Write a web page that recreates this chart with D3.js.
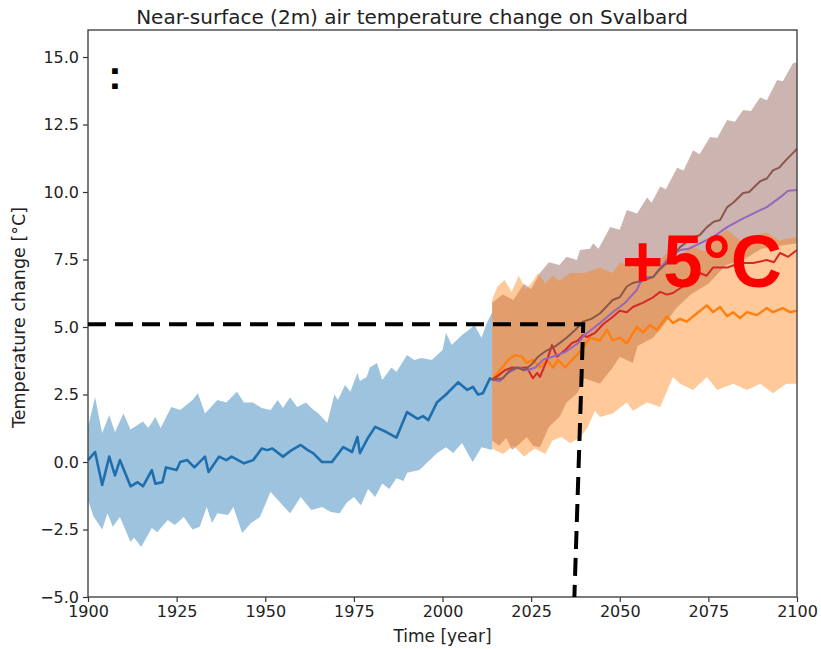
<!DOCTYPE html>
<html>
<head>
<meta charset="utf-8">
<script src="https://cdn.jsdelivr.net/npm/d3@7"></script>
<style>
  html, body { margin: 0; padding: 0; background: #fff; }
  svg { display: block; }
  text { font-family: "DejaVu Sans", sans-serif; }
</style>
</head>
<body>
<svg id="chart" width="821" height="649"></svg>
<script>
// ---- Observed / historical ensemble (year, °C) ----
const histMean = [
  [1900,0.07],[1902,0.37],[1904,-0.85],[1906,0.2],[1907.6,-0.5],[1909,0.07],[1912,-0.9],
  [1914,-0.75],[1915.5,-0.9],[1918,-0.3],[1919,-0.8],[1921,-0.75],[1922,-0.2],[1925,-0.3],
  [1926,0.0],[1928,0.07],[1930,-0.2],[1933,0.2],[1934,-0.37],[1937,0.2],[1939,0.07],
  [1940.5,0.2],[1944,-0.05],[1946.6,0.07],[1949,0.5],[1950.5,0.44],[1952,0.5],[1955,0.2],
  [1957,0.4],[1960,0.63],[1962,0.44],[1963.5,0.33],[1966,0.0],[1968.8,0.0],[1972,0.55],
  [1974.5,0.37],[1976,0.93],[1976.7,0.33],[1979,0.9],[1981,1.3],[1984.3,1.1],[1987,0.9],
  [1990,1.85],[1993,1.6],[1994.5,1.7],[1996,1.55],[1998.4,2.2],[2001,2.5],[2004.4,2.95],
  [2007,2.67],[2008.6,2.78],[2010,2.5],[2011.4,2.55],[2013.4,3.1],[2014,3.05]
];
const histUpper = [
  [1900,1.3],[1902,2.4],[1904,1.07],[1906,1.74],[1907.6,1.1],[1910,1.8],[1912,1.2],
  [1915.5,1.5],[1917,1.26],[1919,1.67],[1920.5,1.26],[1923.5,2.04],[1926,1.93],[1929.5,2.3],
  [1931,2.55],[1933,1.8],[1936.5,2.3],[1939,2.2],[1942,2.6],[1944,2.2],[1946.5,2.2],
  [1949,2.0],[1951.5,1.93],[1953.5,2.3],[1955,2.0],[1957,2.4],[1959,2.04],[1961.5,2.2],
  [1963,2.0],[1965,1.8],[1967.5,1.44],[1969.5,2.5],[1970.5,2.3],[1972.5,2.85],[1974,2.6],
  [1976,3.3],[1976.7,3.0],[1978.6,3.15],[1979.5,3.5],[1981.5,3.67],[1983,3.04],[1985.6,3.5],
  [1987,3.33],[1990,3.96],[1992,3.78],[1994,3.85],[1997,3.78],[2000,4.15],[2001,4.78],
  [2002.6,4.33],[2005.5,4.7],[2007.5,4.9],[2009,5.07],[2011,4.6],[2012.5,5.15],[2014,5.55]
];
const histLower = [
  [1900,-1.4],[1901.5,-2.0],[1904,-2.5],[1905.5,-1.9],[1907,-2.4],[1909,-2.04],[1912,-2.96],
  [1913,-2.8],[1915,-3.15],[1916.5,-2.8],[1918,-2.44],[1919.5,-2.6],[1922.5,-2.15],
  [1924.5,-2.33],[1927,-2.04],[1929.5,-2.5],[1931.5,-2.4],[1933.5,-1.67],[1935,-2.26],
  [1936.5,-1.9],[1939.5,-1.96],[1941,-1.67],[1943.5,-2.63],[1946,-2.26],[1948.5,-2.04],
  [1951.5,-1.1],[1953.5,-1.4],[1957,-1.9],[1960,-1.3],[1963,-1.78],[1966,-1.67],
  [1968.5,-1.85],[1971,-1.9],[1973,-1.5],[1975,-1.3],[1977,-1.6],[1979,-1.0],[1981,-1.3],
  [1983,-0.8],[1985,-1.0],[1987,-0.6],[1989,-0.7],[1990,-0.4],[1993.5,-0.3],[1998.5,0.33],
  [2001,0.55],[2003,0.33],[2005.5,0.7],[2008.5,0.0],[2011,0.55],[2014,0.44]
];

// ---- Scenario projections (year, °C) ----
const ssp126 = [
  [2014,3.05],[2016.2,3.4],[2018.5,3.78],[2020.5,3.96],[2022.4,3.9],[2023.8,3.67],[2025.5,3.78],
  [2027.5,3.5],[2029.5,3.78],[2031.2,3.5],[2032.6,3.78],[2034.6,3.5],[2036.5,3.78],[2038.2,4.0],
  [2039.4,4.2],[2041.6,4.6],[2044.4,4.5],[2046.4,4.9],[2048,4.5],[2050,4.6],[2052,4.4],
  [2054.8,5.0],[2056.6,4.8],[2058.5,5.07],[2060.5,4.9],[2063.3,5.4],[2065,5.15],[2067,5.3],
  [2068.9,5.2],[2071.7,5.5],[2074.6,5.8],[2076.3,5.55],[2078.3,5.74],[2080.3,5.4],[2082,5.55],
  [2083.9,5.33],[2085.9,5.55],[2088.7,5.44],[2091.5,5.7],[2093.2,5.55],[2096,5.7],[2098,5.55],
  [2100,5.6]
];
const ssp245 = [
  [2014,3.05],[2015.7,3.2],[2017.6,3.4],[2019.6,3.5],[2021.3,3.48],[2023.8,3.5],[2025.5,3.1],
  [2026.7,3.3],[2027.5,3.15],[2029.5,3.78],[2030.9,4.33],[2032.3,3.9],[2034.6,4.15],
  [2036.5,4.4],[2038.2,4.5],[2039.6,4.7],[2040.8,4.63],[2043,4.78],[2045.3,5.1],[2048,5.37],
  [2050,5.6],[2052,5.55],[2053.7,5.74],[2056.6,5.9],[2059.4,6.1],[2061.4,6.3],[2063.3,6.2],
  [2065,6.26],[2067.8,6.5],[2070.7,6.7],[2072.6,7.0],[2074.5,6.9],[2076.3,7.2],[2080.3,7.2],
  [2083.9,7.37],[2087.6,7.37],[2091.5,7.48],[2093.5,7.4],[2095.2,7.74],[2097.5,7.6],[2100,7.85]
];
const ssp370 = [
  [2014,3.05],[2016.2,3.0],[2018.5,3.3],[2021.3,3.5],[2024,3.4],[2026.2,3.5],[2028.5,3.8],
  [2031,3.9],[2034.6,4.07],[2038.2,4.4],[2040,4.7],[2042,4.9],[2044.4,5.15],[2046.4,5.37],
  [2048.5,5.6],[2050,5.74],[2051.5,5.9],[2054.8,6.37],[2055.7,6.63],[2057.6,6.85],
  [2059.4,6.85],[2061.5,7.2],[2063.3,7.48],[2067,7.85],[2069.5,7.9],[2072.6,8.1],[2076.3,8.33],
  [2080.3,8.7],[2083.9,8.96],[2087.6,9.2],[2091.5,9.44],[2095.2,9.8],[2097.5,10.05],[2100,10.07]
];
const ssp585 = [
  [2014,3.05],[2017,3.1],[2019,3.4],[2021,3.5],[2023,3.4],[2025,3.6],[2027,3.9],[2029,4.1],
  [2032,4.3],[2035,4.6],[2037.5,4.9],[2039.6,5.2],[2042,5.3],[2044.4,5.5],[2048,6.0],
  [2050,6.1],[2052,6.5],[2053.7,6.63],[2056,6.7],[2059.4,6.85],[2061,7.1],[2063.3,7.37],
  [2067,7.96],[2070.7,8.33],[2072.5,8.4],[2074.6,8.7],[2076.5,8.9],[2078.3,8.96],[2080.3,9.44],
  [2082,9.6],[2084.8,9.96],[2086.5,10.0],[2089.6,10.4],[2091.5,10.5],[2093.2,10.8],
  [2095,10.9],[2097,11.2],[2098.9,11.45],[2100,11.6]
];

// Spread of the low and high emission scenarios
const ssp126Upper = [
  [2014,6.0],[2015.5,6.5],[2017.5,6.74],[2019.5,6.3],[2021.5,6.9],[2023.5,6.4],[2025,6.6],
  [2027,7.0],[2029,6.6],[2031,6.9],[2033,6.7],[2036,7.0],[2040,7.0],[2044.4,7.2],[2048,7.0],
  [2050,7.4],[2053.7,7.2],[2057,7.5],[2060,7.3],[2063,7.7],[2067,7.6],[2070,8.0],[2074,7.8],
  [2078,8.4],[2080.3,8.6],[2084,8.2],[2088,8.4],[2091.5,8.5],[2095,8.2],[2098,8.3],[2100,8.33]
];
const ssp126Lower = [
  [2014,0.5],[2017,0.3],[2020,0.6],[2023,0.2],[2026,0.5],[2029,0.3],[2031,0.8],[2033.5,0.93],
  [2036,0.7],[2038.8,0.9],[2041,1.3],[2043,1.9],[2044.4,1.67],[2048,1.8],[2052,2.2],
  [2053.7,1.9],[2057.7,2.2],[2061.4,2.04],[2065,3.15],[2067,2.9],[2070.7,2.67],[2074.6,3.15],
  [2077.5,2.67],[2082,2.9],[2085.9,2.67],[2089.6,2.9],[2093.2,2.55],[2097,2.9],[2100,2.9]
];
const ssp585Upper = [
  [2014,5.9],[2017,6.2],[2020,6.0],[2023,6.6],[2025,6.4],[2027.5,7.0],[2030,7.4],[2033,7.3],
  [2035,7.6],[2037.9,7.48],[2038.8,7.85],[2041.6,7.9],[2042.5,8.1],[2044,7.9],[2047.3,8.7],
  [2050,8.6],[2052,9.33],[2054.9,9.2],[2057.7,9.8],[2059,9.6],[2061.4,10.2],[2063,10.1],
  [2066.2,10.9],[2068,10.8],[2070.7,11.55],[2072.5,11.4],[2075.5,12.04],[2077.5,12.0],
  [2080.3,12.67],[2082.5,12.6],[2084.8,13.04],[2087,13.0],[2089.6,13.5],[2091.5,13.4],
  [2094.4,14.15],[2096,14.1],[2098.9,14.78],[2100,14.8]
];
const ssp585Lower = [
  [2014,0.8],[2016,0.6],[2018,0.9],[2019.6,0.44],[2022,0.7],[2023.8,0.93],[2025.5,0.6],
  [2027.5,0.55],[2030,1.3],[2033,1.67],[2035,2.2],[2038,2.55],[2040,3.1],[2044.4,2.9],
  [2048,3.5],[2050,3.9],[2053.7,3.67],[2055,4.3],[2059.4,4.6],[2062,5.0],[2066,5.7],
  [2070,6.2],[2075,6.6],[2080,7.3],[2085,7.5],[2090,7.9],[2095,8.0],[2100,8.1]
];

// Axis ticks
const xTicks = [1900, 1925, 1950, 1975, 2000, 2025, 2050, 2075, 2100];
const yTicks = [-5.0, -2.5, 0.0, 2.5, 5.0, 7.5, 10.0, 12.5, 15.0];

// +5 °C guide: across at 5.1 °C, then down to the time axis
const guidePath = [[1900,5.1],[2039.7,5.1],[2037.2,-5.0]];

// ---- Layout ----
const W = 821, H = 649;
const margin = { top: 30, right: 24, bottom: 52, left: 88 };
const svg = d3.select("#chart");

const x = d3.scaleLinear().domain([1900, 2100]).range([margin.left, W - margin.right]);
const y = d3.scaleLinear().domain([-5, 16]).range([H - margin.bottom, margin.top]);

const line = d3.line().x(d => x(d[0])).y(d => y(d[1]));
const band = (upper, lower) => line(upper.concat(lower.slice().reverse())) + "Z";

const plot = svg.append("g");

// Bands
plot.append("path").attr("d", band(histUpper, histLower))
  .attr("fill", "#1f77b4").attr("fill-opacity", 0.44);
plot.append("path").attr("d", band(ssp585Upper, ssp585Lower))
  .attr("fill", "#8c564b").attr("fill-opacity", 0.44);
plot.append("path").attr("d", band(ssp126Upper, ssp126Lower))
  .attr("fill", "#ff7f0e").attr("fill-opacity", 0.42);

// Mean lines
plot.append("path").attr("d", line(histMean))
  .attr("fill", "none").attr("stroke", "#1f6fae").attr("stroke-width", 2.6)
  .attr("stroke-linejoin", "round");
const scen = [
  { data: ssp126, color: "#ff7f0e", w: 2.4 },
  { data: ssp245, color: "#d62728", w: 2.0 },
  { data: ssp370, color: "#9467bd", w: 2.0 },
  { data: ssp585, color: "#8c564b", w: 2.0 }
];
scen.forEach(s => {
  plot.append("path").attr("d", line(s.data))
    .attr("fill", "none").attr("stroke", s.color).attr("stroke-width", s.w)
    .attr("stroke-linejoin", "round");
});

// Axes
const xAxis = svg.append("g")
  .attr("transform", `translate(0,${H - margin.bottom})`)
  .call(d3.axisBottom(x).tickValues(xTicks).tickFormat(d3.format("d")).tickSize(5).tickPadding(4));
const yAxis = svg.append("g")
  .attr("transform", `translate(${margin.left},0)`)
  .call(d3.axisLeft(y).tickValues(yTicks).tickFormat(d3.format(".1f")).tickSize(5).tickPadding(4));
[xAxis, yAxis].forEach(a => {
  a.select(".domain").remove();
  a.selectAll(".tick line").attr("stroke", "#333").attr("stroke-width", 1.2);
  a.selectAll(".tick text").attr("fill", "#222").style("font-size", "16px")
    .style("font-family", "DejaVu Sans, sans-serif");
});

// Frame
svg.append("rect")
  .attr("x", margin.left).attr("y", margin.top)
  .attr("width", W - margin.left - margin.right)
  .attr("height", H - margin.top - margin.bottom)
  .attr("fill", "none").attr("stroke", "#444").attr("stroke-width", 1.4);

// Guide
svg.append("path").attr("d", line(guidePath))
  .attr("fill", "none").attr("stroke", "#000").attr("stroke-width", 4)
  .attr("stroke-dasharray", "18,9");

// Annotation
svg.append("text")
  .attr("x", x(2050.6)).attr("y", y(6.5))
  .attr("fill", "#ff0000")
  .style("font-family", "Liberation Sans, Arial, sans-serif")
  .style("font-weight", "bold").style("font-size", "75px")
  .attr("textLength", 160).attr("lengthAdjust", "spacingAndGlyphs")
  .text("+5°C");

svg.append("text")
  .attr("x", x(1907.6)).attr("y", y(13.8))
  .attr("text-anchor", "middle")
  .style("font-family", "Liberation Sans, Arial, sans-serif")
  .style("font-weight", "bold").style("font-size", "40px")
  .attr("fill", "#000")
  .text(":");

// Titles
svg.append("text")
  .attr("x", 412).attr("y", 24)
  .attr("text-anchor", "middle").attr("fill", "#222")
  .style("font-size", "20px")
  .text("Near-surface (2m) air temperature change on Svalbard");

svg.append("text")
  .attr("x", (margin.left + W - margin.right) / 2).attr("y", 642)
  .attr("text-anchor", "middle").attr("fill", "#222")
  .style("font-size", "17px")
  .text("Time [year]");

svg.append("text")
  .attr("transform", `translate(25,${(margin.top + H - margin.bottom) / 2 + 4}) rotate(-90)`)
  .attr("text-anchor", "middle").attr("fill", "#222")
  .style("font-size", "17.5px")
  .text("Temperature change [°C]");
</script>
</body>
</html>
